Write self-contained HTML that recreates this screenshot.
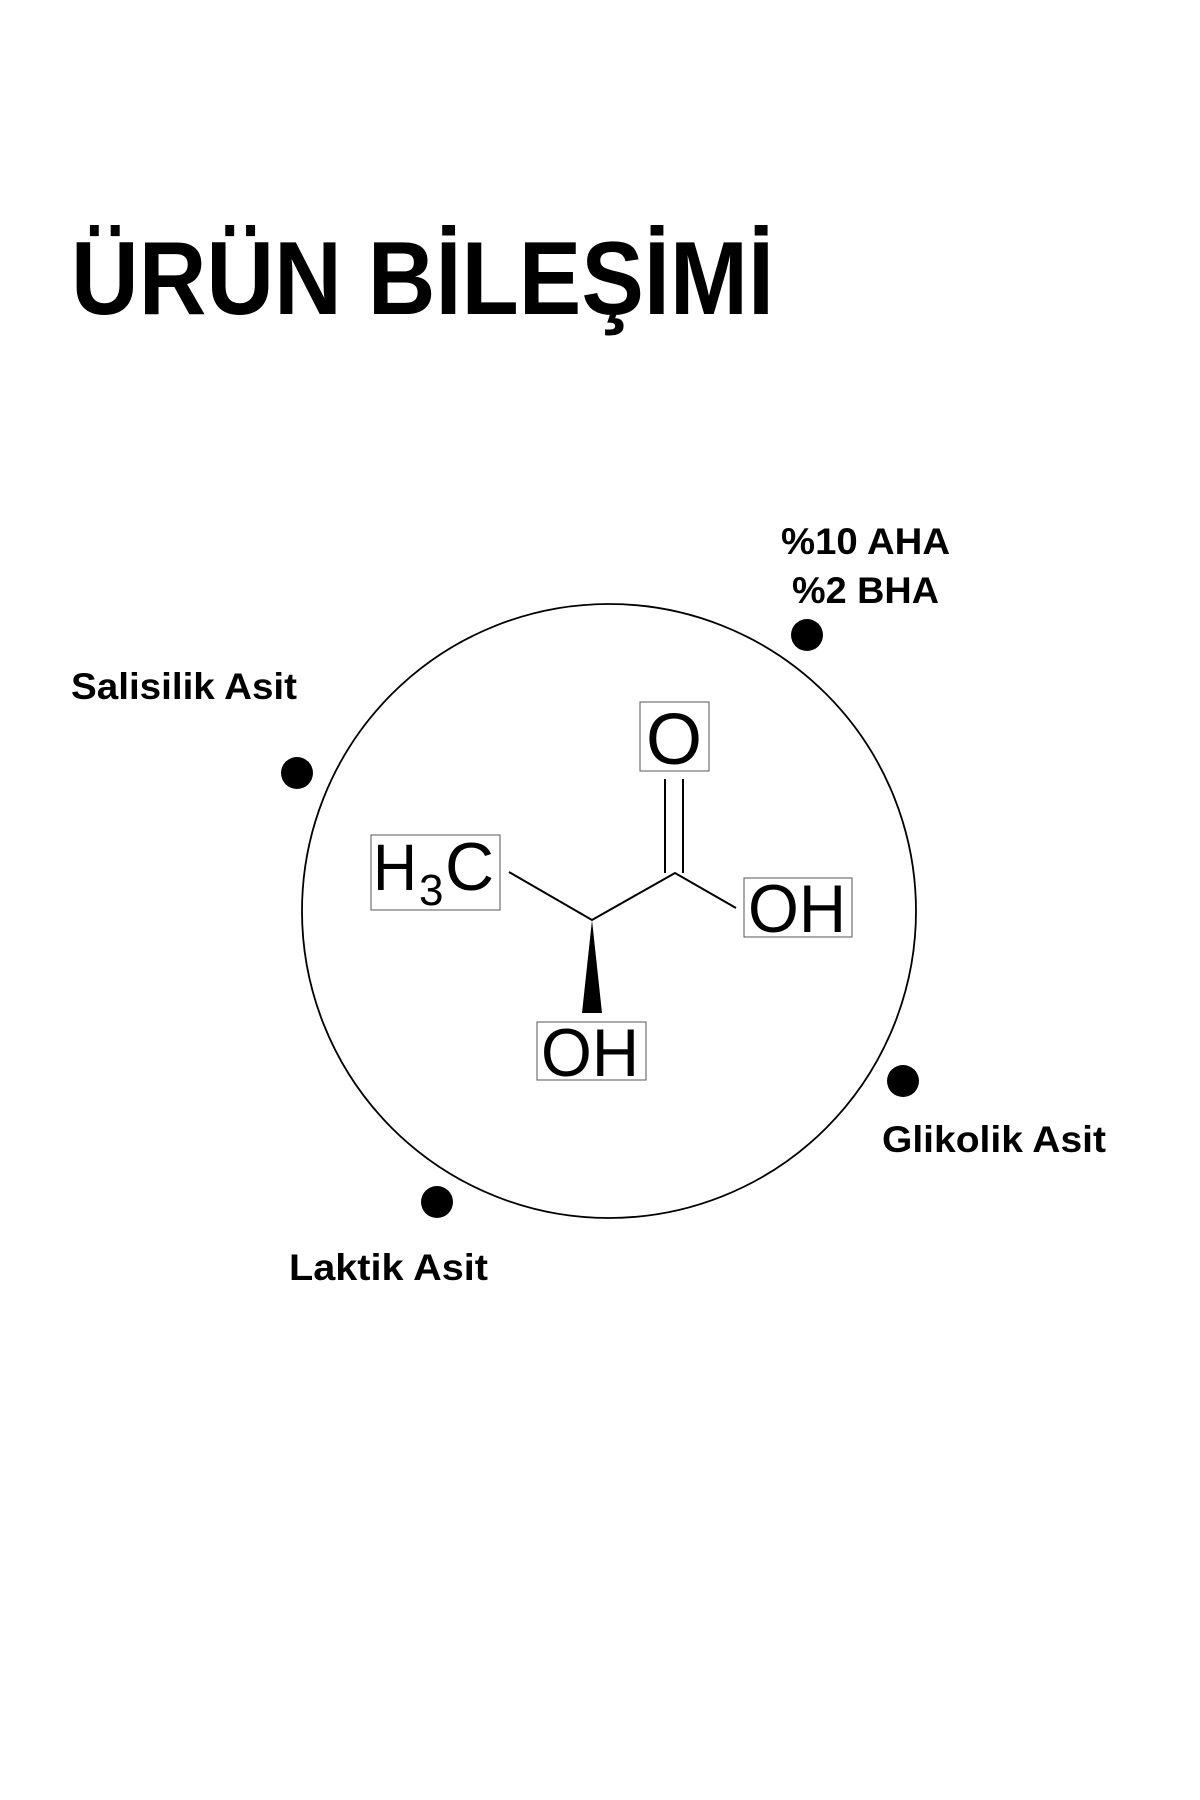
<!DOCTYPE html>
<html><head><meta charset="utf-8"><style>
html,body{margin:0;padding:0;background:#fff;}
svg{display:block}
</style></head><body>
<svg width="1200" height="1800" viewBox="0 0 1200 1800" xmlns="http://www.w3.org/2000/svg">
<rect width="1200" height="1800" fill="#fff"/>
<text x="71" y="314" font-family="Liberation Sans, sans-serif" font-weight="bold" font-size="104" textLength="703" lengthAdjust="spacingAndGlyphs" fill="#000">ÜRÜN BİLEŞİMİ</text>
<circle cx="609" cy="911" r="307" fill="none" stroke="#000" stroke-width="1.8"/>
<g fill="#000">
<circle cx="807" cy="635" r="16"/>
<circle cx="297" cy="773" r="16"/>
<circle cx="903" cy="1081" r="16"/>
<circle cx="437" cy="1202" r="16"/>
</g>
<g font-family="Liberation Sans, sans-serif" font-weight="bold" font-size="37" fill="#000">
<text x="781" y="554" textLength="169" lengthAdjust="spacingAndGlyphs">%10 AHA</text>
<text x="792" y="603" textLength="147" lengthAdjust="spacingAndGlyphs">%2 BHA</text>
<text x="71" y="699" textLength="226" lengthAdjust="spacingAndGlyphs">Salisilik Asit</text>
<text x="882" y="1152" textLength="224" lengthAdjust="spacingAndGlyphs">Glikolik Asit</text>
<text x="289" y="1280" textLength="199" lengthAdjust="spacingAndGlyphs">Laktik Asit</text>
</g>
<g fill="none" stroke="#555" stroke-width="1">
<rect x="640" y="702" width="69" height="69"/>
<rect x="371" y="835" width="129" height="75"/>
<rect x="744" y="878" width="108" height="59"/>
<rect x="537" y="1022" width="109" height="58"/>
</g>
<g stroke="#000" stroke-width="2" fill="none">
<polyline points="509,872 592,920 675,873 736,908"/>
<line x1="665" y1="779" x2="665" y2="873"/>
<line x1="683" y1="779" x2="683" y2="873"/>
</g>
<polygon points="592,920 582,1013 602,1013" fill="#000"/>
<g font-family="Liberation Sans, sans-serif" font-size="72" fill="#000">
<text x="646" y="764">O</text>
<text x="373" y="890" font-size="66" textLength="44" lengthAdjust="spacingAndGlyphs">H</text>
<text x="419" y="905" font-size="44">3</text>
<text x="445" y="890" font-size="68">C</text>
<text x="748" y="932" font-size="68" textLength="98" lengthAdjust="spacingAndGlyphs">OH</text>
<text x="541" y="1076" font-size="68" textLength="98" lengthAdjust="spacingAndGlyphs">OH</text>
</g>
</svg>
</body></html>
